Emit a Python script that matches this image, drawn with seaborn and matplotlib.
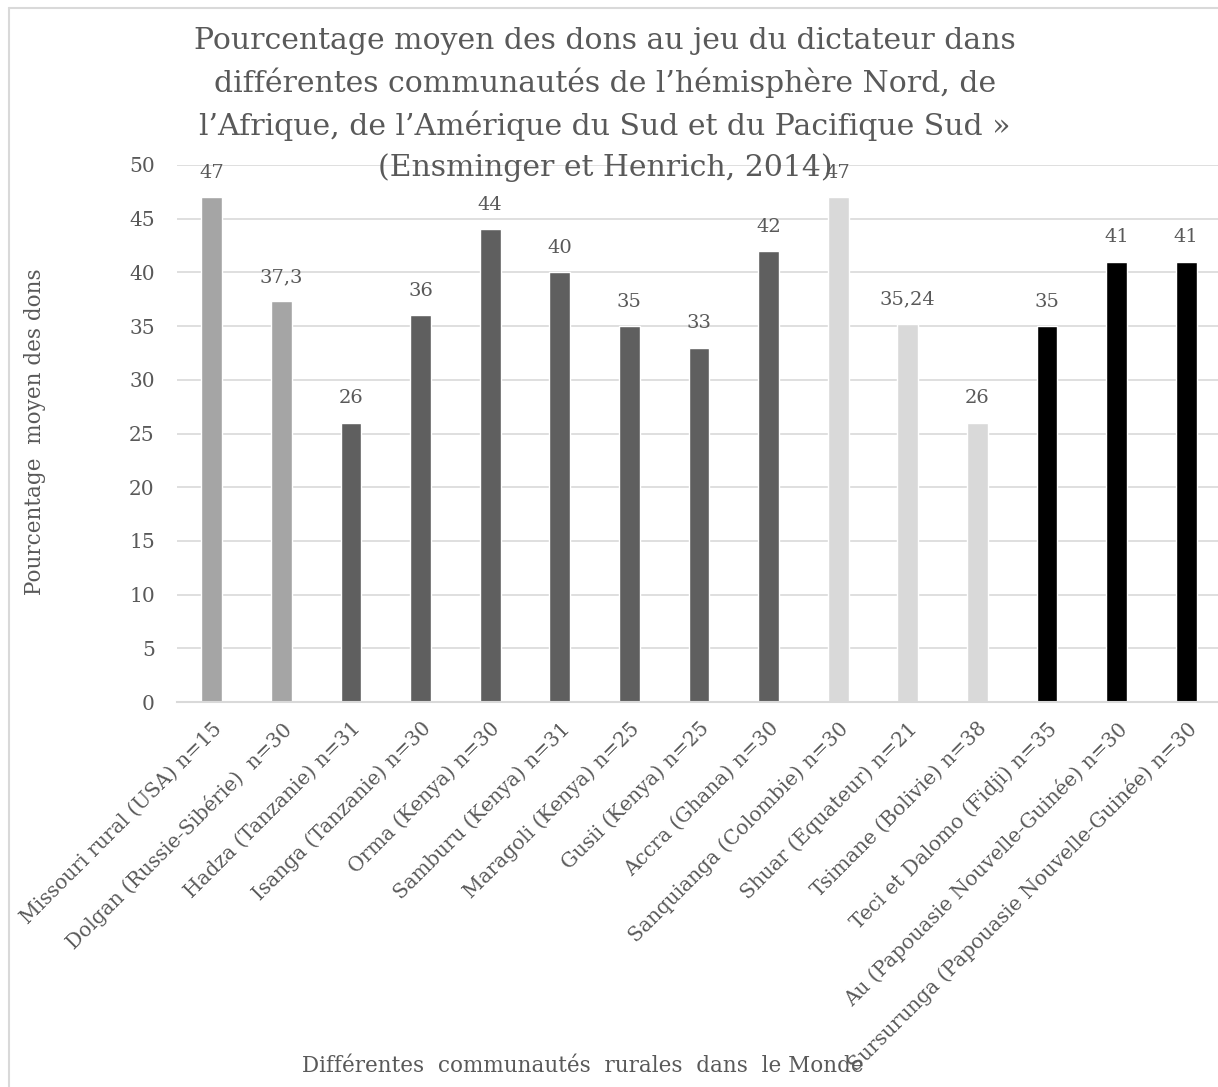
import seaborn as sns, matplotlib.pyplot as plt, pandas as pd
from matplotlib.lines import Line2D

# donnees
communautes = ["Missouri rural (USA) n=15", "Dolgan (Russie-Sibérie)  n=30", "Hadza (Tanzanie) n=31",
               "Isanga (Tanzanie) n=30", "Orma (Kenya) n=30", "Samburu (Kenya) n=31",
               "Maragoli (Kenya) n=25", "Gusii (Kenya) n=25", "Accra (Ghana) n=30",
               "Sanquianga (Colombie) n=30", "Shuar (Equateur) n=21", "Tsimane (Bolivie) n=38",
               "Teci et Dalomo (Fidji) n=35", "Au (Papouasie Nouvelle-Guinée) n=30",
               "Sursurunga (Papouasie Nouvelle-Guinée) n=30"]
dons = [47, 37.3, 26, 36, 44, 40, 35, 33, 42, 47, 35.24, 26, 35, 41, 41]
regions = ["Nord", "Nord", "Afrique", "Afrique", "Afrique", "Afrique", "Afrique", "Afrique", "Afrique",
           "Amerique Sud", "Amerique Sud", "Amerique Sud", "Pacifique", "Pacifique", "Pacifique"]
couleurs = {"Nord": "#A5A5A5", "Afrique": "#5F5F5F", "Amerique Sud": "#D9D9D9", "Pacifique": "#000000"}

df = pd.DataFrame({"communaute": communautes, "don": dons, "region": regions})

sns.set_theme(style="white")
plt.rcParams['font.family'] = ['DejaVu Serif']
gris = "#595959"

W, H = 1218, 1087
fig = plt.figure(figsize=(W / 100, H / 100), dpi=100)
ax = fig.add_axes([177 / W, 385 / H, 1044 / W, 537 / H])

sns.barplot(data=df, x="communaute", y="don", hue="region", palette=couleurs,
            width=0.3, legend=False, ax=ax, saturation=1)

ax.set_ylim(0, 50)
ax.set_xlim(-0.5, len(communautes) - 0.5)
ax.set_yticks(range(0, 51, 5))
ax.yaxis.grid(True, color="#D9D9D9", linewidth=1.2)
ax.set_axisbelow(True)
sns.despine(ax=ax, left=True, top=True, right=True)
ax.spines["bottom"].set_color("#D9D9D9")
ax.spines["bottom"].set_linewidth(1.5)
ax.tick_params(axis="both", length=0, colors=gris, labelsize=14.5)
ax.tick_params(axis="y", pad=16)
ax.tick_params(axis="x", pad=12)
plt.setp(ax.get_xticklabels(), rotation=45, ha="right", rotation_mode="anchor")
ax.set_xlabel("")
ax.set_ylabel("")

# etiquettes de valeurs avec virgule decimale
etiquettes = [f"{v:g}".replace(".", ",") for v in dons]
for cont in ax.containers:
    idx = [int(round(b.get_x() + b.get_width() / 2)) for b in cont]
    ax.bar_label(cont, labels=[etiquettes[i] for i in idx], padding=11, color=gris, fontsize=14)

fig.text(605 / W, 1 - 27 / H,
         "Pourcentage moyen des dons au jeu du dictateur dans\n"
         "différentes communautés de l’hémisphère Nord, de\n"
         "l’Afrique, de l’Amérique du Sud et du Pacifique Sud »\n"
         "(Ensminger et Henrich, 2014)",
         ha="center", va="top", multialignment="center", fontsize=21.5, color=gris, linespacing=1.52)
fig.text(35 / W, 1 - 432 / H, "Pourcentage  moyen des dons", rotation=90,
         ha="center", va="center", fontsize=15.5, color=gris)
fig.text(583 / W, 1 - 1066 / H, "Différentes  communautés  rurales  dans  le Monde",
         ha="center", va="center", fontsize=15.5, color=gris)

# cadre du graphique
fig.add_artist(Line2D([9 / W, 1], [1 - 8 / H, 1 - 8 / H], transform=fig.transFigure, color="#D9D9D9", lw=1.5))
fig.add_artist(Line2D([9 / W, 9 / W], [0, 1 - 8 / H], transform=fig.transFigure, color="#D9D9D9", lw=1.5))

fig.savefig("out.png", dpi=100)
